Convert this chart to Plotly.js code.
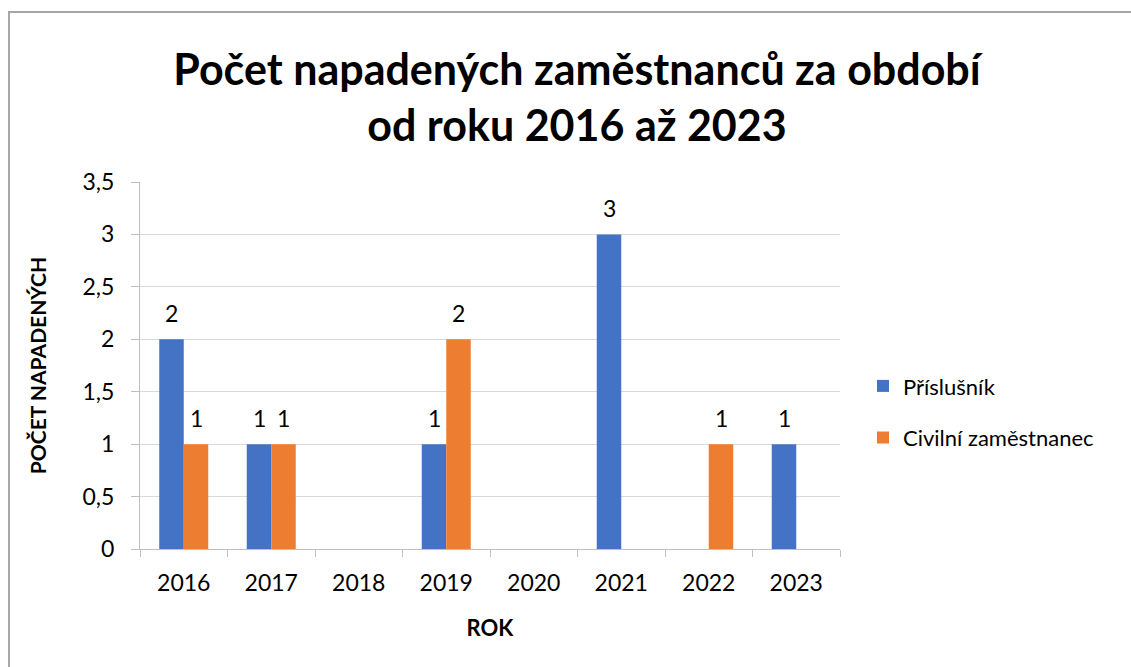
<!DOCTYPE html>
<html>
<head>
<meta charset="utf-8">
<script src="https://cdn.plot.ly/plotly-3.0.1.min.js"></script>
<style>
  html, body { margin: 0; padding: 0; background: #fff; }
  #frame { position: absolute; left: 8px; top: 11px; width: 1200px; height: 700px;
           border-left: 2px solid #a6a6a6; border-top: 2px solid #a6a6a6; }
  #chart { position: absolute; left: 0; top: 0; width: 1131px; height: 667px; }
</style>
</head>
<body>
<div id="frame"></div>
<div id="chart"></div>
<script>
const years = ['2016', '2017', '2018', '2019', '2020', '2021', '2022', '2023'];
const prislusnik = [2, 1, null, 1, null, 3, null, 1];
const civilni = [1, 1, null, 2, null, null, 1, null];
const seriesNames = ['Příslušník', 'Civilní zaměstnanec'];
const seriesColors = ['#4472C4', '#ED7D31'];
const titleText = 'Počet napadených zaměstnanců za období<br>od roku 2016 až 2023';
const yTitle = 'POČET NAPADENÝCH';
const xTitle = 'ROK';

const FONT = 'Lato, "Open Sans", sans-serif';
const allSeries = [prislusnik, civilni];

const traces = allSeries.map((vals, k) => ({
  type: 'bar',
  name: seriesNames[k],
  x: years,
  y: vals,
  marker: { color: seriesColors[k], line: { width: 0 } },
  legendgroup: 'g' + k
}));

// data labels: x given as category serial index (the axis' own category scale)
const annotations = [];
allSeries.forEach((vals, k) => {
  vals.forEach((v, i) => {
    if (v === null) return;
    annotations.push({
      x: i, y: v, xref: 'x', yref: 'y',
      text: String(v), showarrow: false,
      yanchor: 'bottom', yshift: 10, xshift: k === 0 ? -12.25 : 12.25,
      font: { family: FONT, size: 23, color: '#000' }
    });
  });
});

const layout = {
  width: 1131, height: 667,
  paper_bgcolor: 'rgba(0,0,0,0)',
  plot_bgcolor: 'rgba(0,0,0,0)',
  separators: ', ',
  font: { family: FONT, size: 22, color: '#000' },
  margin: { l: 140, r: 291, t: 182, b: 118, pad: 0 },
  title: {
    text: titleText,
    font: { family: FONT, size: 43, color: '#000', weight: 'bold' },
    x: 577 / 1131, xanchor: 'center', xref: 'container',
    y: 1 - 85 / 667, yanchor: 'top', yref: 'container'
  },
  barmode: 'group',
  bargap: 0.44,
  bargroupgap: 0,
  xaxis: {
    type: 'category',
    range: [-0.5, years.length - 0.5],
    tickson: 'boundaries',
    ticks: 'outside', ticklen: 7, tickcolor: '#bfbfbf', tickwidth: 1,
    showline: true, linecolor: '#bfbfbf', linewidth: 1,
    showgrid: false,
    tickangle: 0,
    ticklabelstandoff: 13,
    tickfont: { family: FONT, size: 23, color: '#000' },
    title: { text: xTitle, font: { family: FONT, size: 22, color: '#000', weight: 'bold' }, standoff: 26 },
    fixedrange: true
  },
  yaxis: {
    range: [0, 3.5], dtick: 0.5, tick0: 0,
    ticks: 'outside', ticklen: 8, tickcolor: '#bfbfbf', tickwidth: 1,
    showline: true, linecolor: '#bfbfbf', linewidth: 1,
    showgrid: true, gridcolor: '#d9d9d9', gridwidth: 1,
    zeroline: false,
    ticklabelstandoff: 12,
    tickfont: { family: FONT, size: 23, color: '#000' },
    title: { text: yTitle, font: { family: FONT, size: 21, color: '#000', weight: 'bold' }, standoff: 30 },
    fixedrange: true
  },
  showlegend: true,
  legend: {
    x: (863 - 140) / 700, xanchor: 'left',
    y: 0.373, yanchor: 'middle',
    font: { family: FONT, size: 22, color: '#000' },
    tracegroupgap: 20,
    bgcolor: 'rgba(0,0,0,0)'
  },
  annotations: annotations
};

Plotly.newPlot('chart', traces, layout, { displayModeBar: false, staticPlot: true });
</script>
</body>
</html>
